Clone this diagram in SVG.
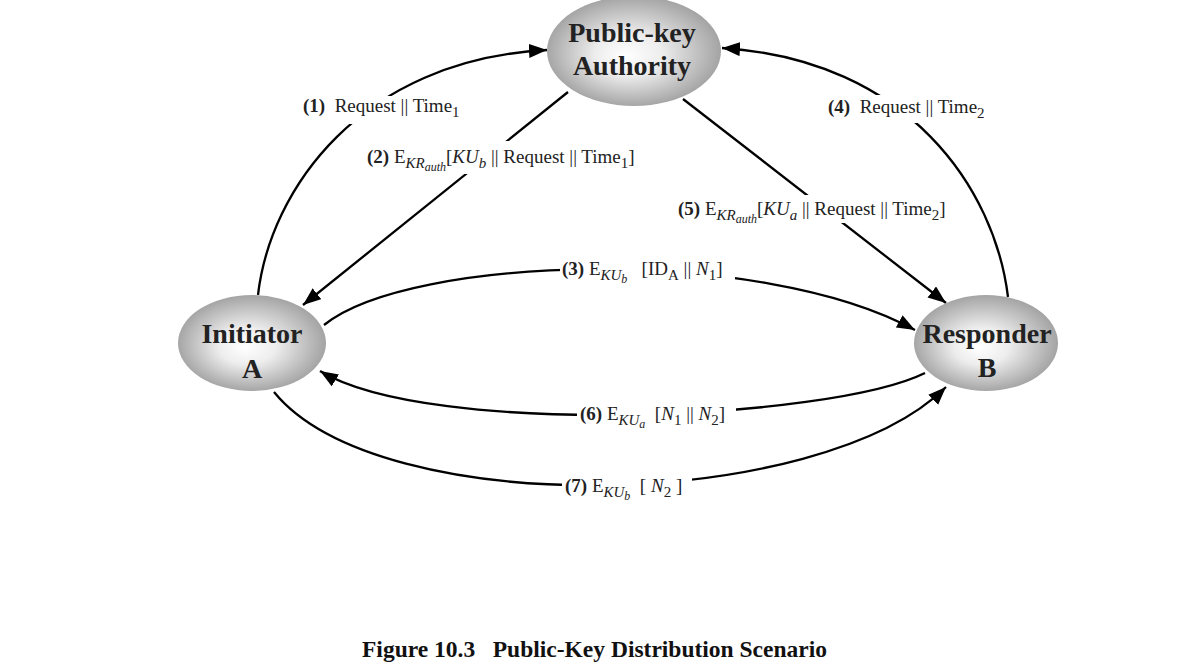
<svg xmlns="http://www.w3.org/2000/svg" width="1178" height="663" viewBox="0 0 1178 663">
<style>
.node text{font-family:"Liberation Serif","Times New Roman",serif;font-weight:bold;font-size:28px;fill:#222;text-anchor:middle}
.conn path{fill:none;stroke:#000;stroke-width:2.3;marker-end:url(#arr)}
.lbl text{font-family:"Liberation Serif","Times New Roman",serif;font-size:19px;fill:#222}
.lbl rect{fill:#fff}
.b{font-weight:bold}
.i{font-style:italic}
.s{font-size:15px}
.ss{font-size:12px}
.cap{font-family:"Liberation Serif","Times New Roman",serif;font-weight:bold;font-size:23.5px;fill:#111}
</style>
<defs>
<radialGradient id="g" cx="0.5" cy="0.5" r="0.55" fx="0.45" fy="0.55">
<stop offset="0" stop-color="#ffffff"/>
<stop offset="0.35" stop-color="#ededed"/>
<stop offset="1" stop-color="#999999"/>
</radialGradient>
<marker id="arr" markerUnits="userSpaceOnUse" markerWidth="19" markerHeight="15" refX="18" refY="7" orient="auto">
<path d="M0,0 L18,7 L0,14 z" fill="#000"/>
</marker>
</defs>
<rect width="1178" height="663" fill="#fff"/>
<g id="connectors" class="conn">
<path d="M258,295 C270,190 360,60 547,50"/>
<path d="M568,92 L303,305"/>
<path d="M324,325 C410,255 760,245 915,330"/>
<path d="M1008,297 C995,190 910,60 722,48"/>
<path d="M683,99 L946,303"/>
<path d="M925,373 C830,420 430,438 320,371"/>
<path d="M274,392 C380,522 820,512 946,387"/>
</g>
<g id="labels" class="lbl">
<g id="label1"><rect x="300" y="96" width="166" height="28"/>
<text x="303" y="112"><tspan class="b">(1)</tspan>&#160; Request || Time<tspan class="s" dy="5">1</tspan></text></g>
<g id="label2"><rect x="364" y="141" width="282" height="33"/>
<text x="367" y="163"><tspan class="b">(2)</tspan> E<tspan class="i s" dy="5">KR</tspan><tspan class="i ss" dy="3">auth</tspan><tspan dy="-8">[</tspan><tspan class="i">KU</tspan><tspan class="i s" dy="5">b</tspan><tspan dy="-5"> || Request || Time</tspan><tspan class="s" dy="5">1</tspan><tspan dy="-5">]</tspan></text></g>
<g id="label4"><rect x="825" y="95" width="168" height="28"/>
<text x="828" y="113"><tspan class="b">(4)</tspan>&#160; Request || Time<tspan class="s" dy="5">2</tspan></text></g>
<g id="label5"><rect x="675" y="195" width="284" height="28"/>
<text x="678" y="215"><tspan class="b">(5)</tspan> E<tspan class="i s" dy="5">KR</tspan><tspan class="i ss" dy="3">auth</tspan><tspan dy="-8">[</tspan><tspan class="i">KU</tspan><tspan class="i s" dy="5">a</tspan><tspan dy="-5"> || Request || Time</tspan><tspan class="s" dy="5">2</tspan><tspan dy="-5">]</tspan></text></g>
<g id="label3"><rect x="560" y="255" width="175" height="32"/>
<text x="562" y="275"><tspan class="b">(3)</tspan> E<tspan class="i s" dy="5">KU</tspan><tspan class="i ss" dy="3">b</tspan><tspan dy="-8">&#160;&#160; [ID</tspan><tspan class="s" dy="5">A</tspan><tspan dy="-5"> || </tspan><tspan class="i">N</tspan><tspan class="s" dy="5">1</tspan><tspan dy="-5">]</tspan></text></g>
<g id="label6"><rect x="577" y="400" width="159" height="30"/>
<text x="580" y="420"><tspan class="b">(6)</tspan> E<tspan class="i s" dy="5">KU</tspan><tspan class="i ss" dy="3">a</tspan><tspan dy="-8">&#160; [</tspan><tspan class="i">N</tspan><tspan class="s" dy="5">1</tspan><tspan dy="-5"> || </tspan><tspan class="i">N</tspan><tspan class="s" dy="5">2</tspan><tspan dy="-5">]</tspan></text></g>
<g id="label7"><rect x="562" y="472" width="130" height="30"/>
<text x="565" y="492"><tspan class="b">(7)</tspan> E<tspan class="i s" dy="5">KU</tspan><tspan class="i ss" dy="3">b</tspan><tspan dy="-8">&#160; [ </tspan><tspan class="i">N</tspan><tspan class="s" dy="5">2</tspan><tspan dy="-5"> ]</tspan></text></g>
</g>
<g id="authority" class="node">
<ellipse cx="634" cy="51" rx="87" ry="55" fill="url(#g)"/>
<text x="632" y="42">Public-key</text>
<text x="632" y="75">Authority</text>
</g>
<g id="initiator" class="node">
<ellipse cx="252" cy="343" rx="74" ry="48" fill="url(#g)"/>
<text x="252" y="343">Initiator</text>
<text x="252" y="378">A</text>
</g>
<g id="responder" class="node">
<ellipse cx="986" cy="343" rx="72" ry="48" fill="url(#g)"/>
<text x="987" y="343">Responder</text>
<text x="987" y="377">B</text>
</g>
<text class="cap" x="362" y="657" xml:space="preserve">Figure 10.3   Public-Key Distribution Scenario</text>
</svg>
